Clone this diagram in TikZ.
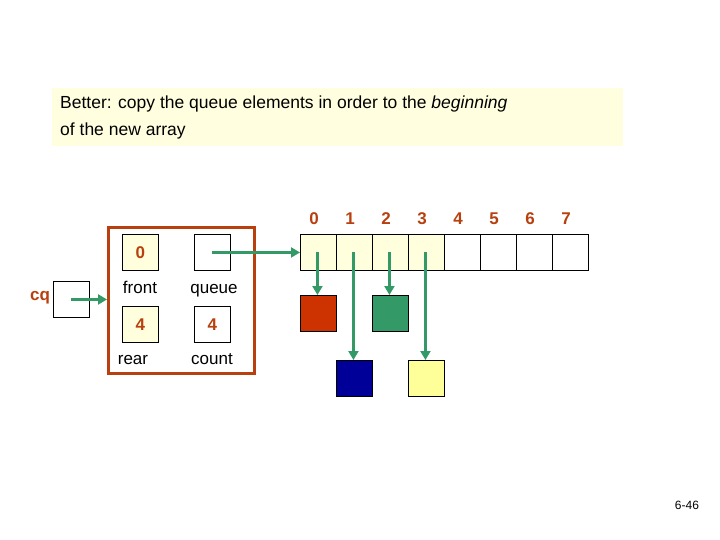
\documentclass[tikz,border=0pt]{standalone}
\usepackage{fontspec}
\setmainfont{Liberation Sans}
\usetikzlibrary{arrows.meta}
\definecolor{brn}{HTML}{B8400F}
\definecolor{grn}{HTML}{339966}
\definecolor{ltyel}{HTML}{FFFFE0}
\definecolor{cellyel}{HTML}{FFFFDD}
\definecolor{ered}{HTML}{CC3300}
\definecolor{eblue}{HTML}{000099}
\definecolor{eyel}{HTML}{FFFF99}
\begin{document}
\begin{tikzpicture}[x=1pt,y=-1pt,
  cell/.style={draw=black,line width=0.9pt,minimum width=36pt,minimum height=36pt,inner sep=0,anchor=north west},
  var/.style={cell,fill=#1},
  dig/.style={text=brn,font=\fontsize{17}{17}\selectfont\bfseries},
  lbl/.style={font=\fontsize{17}{17}\selectfont,anchor=base,inner sep=0},
  arr/.style={draw=grn,line width=3pt,-{Triangle[length=9pt,width=10pt]}}]
\useasboundingbox (0,0) rectangle (720,540);
\node[fill=ltyel,minimum width=571pt,minimum height=58pt,anchor=north west,inner sep=0] (title) at (52,88) {};
\node[anchor=north west,align=left,font=\fontsize{17.5}{27}\selectfont,inner sep=0] (tt) at (60,96) {Better: copy the queue elements in order to the \textit{beginning}\\of the new array};
\node[font=\fontsize{12}{12}\selectfont] (pg) at (687,505) {6-46};
% struct
\node[draw=brn,line width=3pt,minimum width=146pt,minimum height=146pt,anchor=north west,inner sep=0] (rec) at (107,226) {};
\node[var=cellyel] (front) at (122,234) {};
\node[dig] at (front.center) {0};
\node[var=white] (queue) at (194,234) {};
\node[var=cellyel] (rear) at (122,306) {};
\node[dig] at (rear.center) {4};
\node[var=white] (count) at (194,306) {};
\node[dig] at (count.center) {4};
\node[lbl] (lf) at (140,293) {front};
\node[lbl] (lq) at (214,293) {queue};
\node[lbl] (lr) at (133,364) {rear};
\node[lbl] (lc) at (212,364) {count};
\node[var=white] (cq) at (53,281) {};
\node[text=brn,font=\fontsize{17}{17}\selectfont\bfseries] (cql) at (40,298) {cq};
% array
\foreach \i in {0,...,7}{
  \pgfmathsetmacro{\xx}{300+36*\i}
  \ifnum\i<4
    \node[var=cellyel] (c\i) at (\xx,234) {};
  \else
    \node[var=white] (c\i) at (\xx,234) {};
  \fi
  \node[dig] (n\i) at (\xx+14,219) {\i};
}
\node[var=ered] (e0) at (300,295) {};
\node[var=grn] (e2) at (372,295) {};
\node[var=eblue] (e1) at (336,360) {};
\node[var=eyel] (e3) at (408,360) {};
\draw[arr] (cq.center) -- (rec.west |- cq.center);
\draw[arr] (queue.center) -- (c0.west);
\foreach \i in {0,...,3}{
  \draw[arr] ([xshift=-1pt]c\i.center) -- ([xshift=-1pt]e\i.north);
}
\end{tikzpicture}
\end{document}
